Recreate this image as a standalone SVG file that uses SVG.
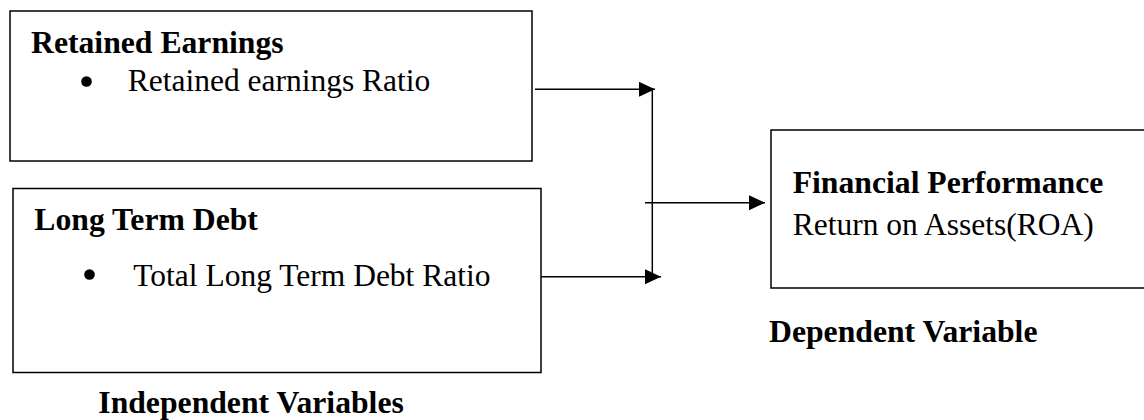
<svg xmlns="http://www.w3.org/2000/svg" width="1144" height="420" viewBox="0 0 1144 420">
<style>
.box{fill:#fff;stroke:#000;stroke-width:1.5}
.b{font-family:"Liberation Serif","Times New Roman",serif;font-weight:bold;font-size:31.7px;fill:#000}
.r{font-family:"Liberation Serif","Times New Roman",serif;font-size:31.5px;fill:#000}
.c{stroke:#000;stroke-width:1.5;fill:none}
</style>
<defs>
<marker id="ah" markerWidth="16" markerHeight="16" refX="16" refY="7.5" orient="auto" markerUnits="userSpaceOnUse">
<path d="M0,0 L16,7.5 L0,15 Z" fill="#000"/>
</marker>
</defs>
<rect width="1144" height="420" fill="#fff"/>
<g id="node-retained">
<rect class="box" x="10" y="11" width="522" height="150"/>
<text class="b" x="31" y="52.5">Retained Earnings</text>
<circle cx="86.5" cy="81.5" r="5.3" fill="#000"/>
<text class="r" x="127.7" y="90.7">Retained earnings Ratio</text>
</g>
<g id="node-debt">
<rect class="box" x="13" y="188.5" width="528" height="184"/>
<text class="b" x="34.3" y="230">Long Term Debt</text>
<circle cx="89.5" cy="274.5" r="5.3" fill="#000"/>
<text class="r" x="133.3" y="286">Total Long Term Debt Ratio</text>
</g>
<g id="node-performance">
<rect class="box" x="771" y="130" width="390" height="158"/>
<text class="b" x="792.7" y="193">Financial Performance</text>
<text class="r" x="792.7" y="235">Return on Assets(ROA)</text>
</g>
<g id="label-independent">
<text class="b" x="98.3" y="413">Independent Variables</text>
</g>
<g id="label-dependent">
<text class="b" x="769" y="342">Dependent Variable</text>
</g>
<g id="connectors">
<line class="c" x1="535" y1="89.3" x2="655" y2="89.3" marker-end="url(#ah)"/>
<line class="c" x1="541" y1="276.7" x2="661" y2="276.7" marker-end="url(#ah)"/>
<line class="c" x1="652.3" y1="89.3" x2="652.3" y2="276.7"/>
<line class="c" x1="645" y1="202.7" x2="765" y2="202.7" marker-end="url(#ah)"/>
</g>
</svg>
